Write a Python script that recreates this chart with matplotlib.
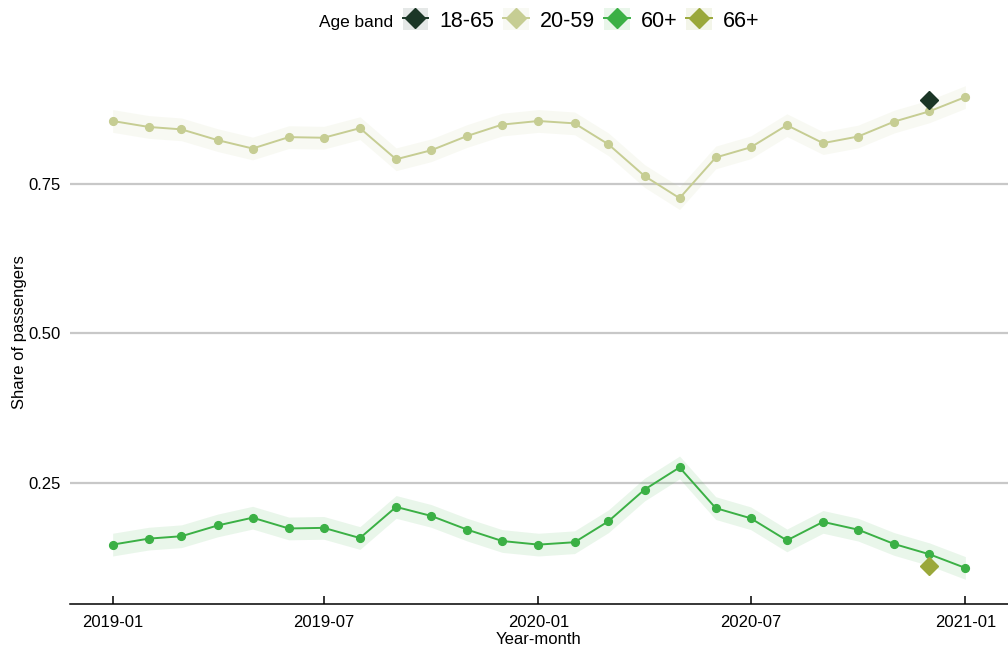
import numpy as np
import pandas as pd
import matplotlib
matplotlib.use("Agg")
import matplotlib.pyplot as plt
import matplotlib.dates as mdates
from matplotlib.patches import Rectangle
from matplotlib.lines import Line2D

plt.rcParams["font.family"] = ["Liberation Sans", "DejaVu Sans"]

# Monthly share of passengers by age band
months = pd.date_range("2019-01-01", "2021-01-01", freq="MS")

share_20_59 = [0.855, 0.845, 0.841, 0.823, 0.809, 0.828, 0.827, 0.843, 0.791,
               0.806, 0.830, 0.849, 0.855, 0.851, 0.816, 0.763, 0.726, 0.794,
               0.811, 0.848, 0.818, 0.829, 0.854, 0.871, 0.895]
share_60_plus = [0.147, 0.157, 0.161, 0.179, 0.192, 0.174, 0.175, 0.158, 0.210,
                 0.195, 0.172, 0.153, 0.147, 0.151, 0.186, 0.239, 0.276, 0.208,
                 0.191, 0.154, 0.185, 0.172, 0.148, 0.131, 0.108]
# Half-width of the uncertainty band around each series
band_20_59 = 0.019
band_60_plus = 0.019

# Single-month observations for the alternative age bands
single_month = pd.Timestamp("2020-12-01")
share_18_65 = 0.890
share_66_plus = 0.112

colors = {
    "18-65": "#1b3626",
    "20-59": "#c6cd93",
    "60+": "#3bb045",
    "66+": "#9aa83a",
}
band_alpha = 0.11

x_ticks = ["2019-01-01", "2019-07-01", "2020-01-01", "2020-07-01", "2021-01-01"]
y_ticks = [0.25, 0.50, 0.75]

fig = plt.figure(figsize=(10.08, 6.48), dpi=100)
ax = fig.add_axes([70 / 1008, 44 / 648, 938 / 1008, 543 / 648])

x = months.to_numpy()
for label, vals, band in [("20-59", share_20_59, band_20_59),
                          ("60+", share_60_plus, band_60_plus)]:
    v = np.asarray(vals)
    ax.fill_between(x, v - band, v + band, color=colors[label],
                    alpha=band_alpha, linewidth=0, zorder=1)
    ax.plot(x, v, color=colors[label], lw=1.4, marker="o", markersize=5.6,
            zorder=3)

ax.plot([single_month], [share_18_65], linestyle="none", marker="D",
        markersize=9, color=colors["18-65"], zorder=4)
ax.plot([single_month], [share_66_plus], linestyle="none", marker="D",
        markersize=9, color=colors["66+"], zorder=4)

# Axis ranges with a 5% margin around the data
xmin, xmax = mdates.date2num(months[0]), mdates.date2num(months[-1])
xr = xmax - xmin
ax.set_xlim(xmin - 0.05 * xr, xmax + 0.05 * xr)
lo = min(share_60_plus) - band_60_plus
hi = max(share_20_59) + band_20_59
yr = hi - lo
ax.set_ylim(lo - 0.05 * yr, hi + 0.05 * yr)

ax.set_xticks([mdates.date2num(pd.Timestamp(t)) for t in x_ticks])
ax.xaxis.set_major_formatter(mdates.DateFormatter("%Y-%m"))
ax.set_yticks(y_ticks)
ax.set_yticklabels([f"{t:.2f}" for t in y_ticks])

ax.grid(axis="y", color="#c8c8c8", linewidth=1.6)
ax.grid(axis="x", visible=False)
ax.set_axisbelow(True)

for side in ["top", "right", "left"]:
    ax.spines[side].set_visible(False)
ax.spines["bottom"].set_linewidth(1.1)
ax.spines["bottom"].set_color("black")

ax.tick_params(axis="x", direction="in", length=6, width=1.1, pad=8,
               labelsize=12, colors="black")
ax.tick_params(axis="y", length=0, pad=6.5, labelsize=12, colors="black")

ax.set_xlabel("Year-month", fontsize=12, va="center")
ax.xaxis.set_label_coords(0.5, (8 - 44) / 543)
ax.set_ylabel("Share of passengers", fontsize=12, va="center")
ax.yaxis.set_label_coords((20 - 70) / 938, 0.5)

# Legend: key boxes tinted with the band fill, diamond marker with a line
handles = [Rectangle((0, 0), 1, 1, fill=False, edgecolor="none")]
labels = ["Age band"]
for label in ["18-65", "20-59", "60+", "66+"]:
    bg = Rectangle((0, 0), 1, 1, facecolor=colors[label], alpha=band_alpha,
                   edgecolor="none")
    mk = Line2D([], [], color=colors[label], lw=1.4, marker="D",
                markersize=10)
    handles.append((bg, mk))
    labels.append(label)

leg = fig.legend(handles, labels, loc="center",
                 bbox_to_anchor=(521 / 1008, 1 - 20 / 648), ncol=5,
                 frameon=False, fontsize=15.5, handlelength=1.2,
                 handleheight=1.16, handletextpad=0.5, columnspacing=0.42,
                 borderpad=0.2)
leg.get_texts()[0].set_fontsize(12.4)

fig.savefig("out.png", dpi=100)
